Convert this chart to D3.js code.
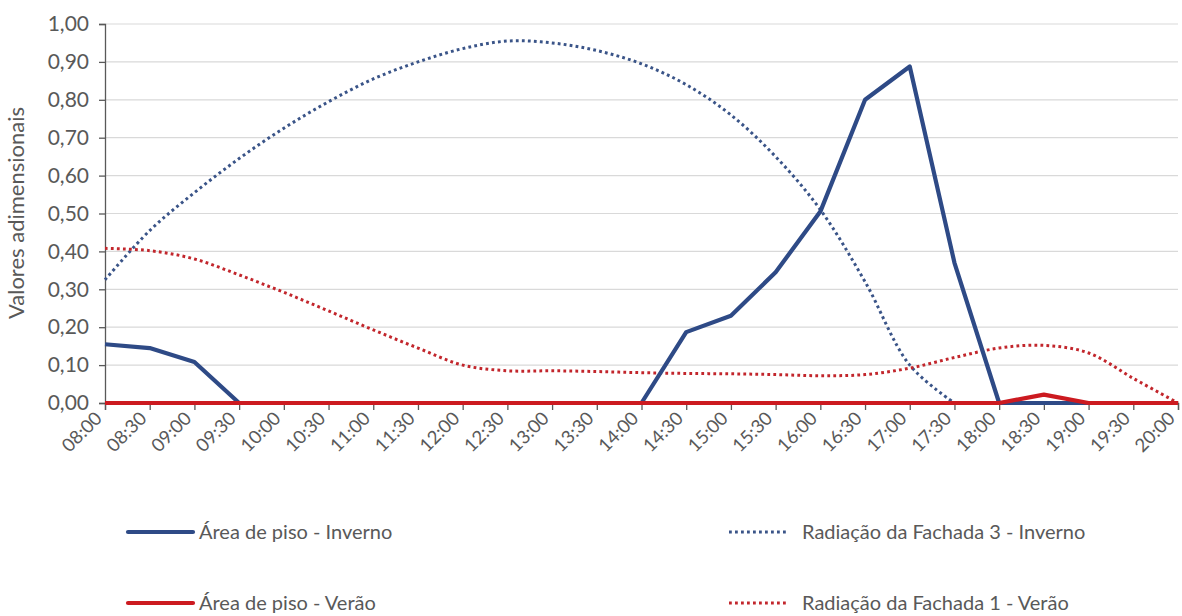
<!DOCTYPE html>
<html><head><meta charset="utf-8">
<script src="https://cdn.jsdelivr.net/npm/d3@7/dist/d3.min.js"></script>
<style>body{margin:0;background:#fff}svg{display:block}text{font-family:Lato,"Open Sans",sans-serif;fill:#595959}</style>
</head><body><svg id="c" width="1182" height="616"></svg>
<script>
const times = ["08:00","08:30","09:00","09:30","10:00","10:30","11:00","11:30","12:00","12:30","13:00","13:30","14:00","14:30","15:00","15:30","16:00","16:30","17:00","17:30","18:00","18:30","19:00","19:30","20:00"];
const areaInverno = [0.155,0.145,0.108,0,0,0,0,0,0,0,0,0,0,0.187,0.23,0.345,0.505,0.80,0.888,0.37,0,0,0,0,0];
const areaVerao   = [0,0,0,0,0,0,0,0,0,0,0,0,0,0,0,0,0,0,0,0,0,0.022,0,0,0];
const radF3Inverno = [0.325,0.455,0.555,0.645,0.725,0.795,0.855,0.90,0.935,0.955,0.95,0.93,0.895,0.84,0.76,0.65,0.51,0.32,0.10,0.0];
const radF1Verao  = [0.408,0.402,0.38,0.338,0.292,0.243,0.193,0.145,0.10,0.085,0.085,0.083,0.08,0.078,0.077,0.075,0.072,0.075,0.092,0.12,0.145,0.152,0.132,0.065,0.0];
const yTicks = [0,0.1,0.2,0.3,0.4,0.5,0.6,0.7,0.8,0.9,1.0];
const seriesNames = ["Área de piso - Inverno","Radiação da Fachada 3 - Inverno","Área de piso - Verão","Radiação da Fachada 1 - Verão"];

const svg = d3.select("#c");
const blue = "#2E4A86", red = "#CC1A20", blueDot = "#3A5488", redDot = "#C2262C";
const x = d3.scalePoint().domain(times).range([105, 1178]);
const y = d3.scaleLinear().domain([0, 1]).range([403, 24]);

svg.append("g").selectAll("line").data(yTicks.slice(1)).join("line")
  .attr("x1", 105).attr("x2", 1178).attr("y1", d => y(d)).attr("y2", d => y(d))
  .attr("stroke", "#D9D9D9").attr("stroke-width", 1.2);

const ya = svg.append("g").attr("transform", "translate(105,0)")
  .call(d3.axisLeft(y).tickValues(yTicks).tickSize(6).tickPadding(10)
    .tickFormat(d => d3.format(".2f")(d).replace(".", ",")));
ya.select(".domain").attr("stroke", "#595959").attr("stroke-width", 1.3);
ya.selectAll(".tick line").attr("stroke", "#595959").attr("stroke-width", 1.3);
ya.selectAll("text").attr("font-size", 21).attr("fill", "#606060").style("font-family", "Lato");

const xa = svg.append("g").attr("transform", "translate(0,403)")
  .call(d3.axisBottom(x).tickSize(7).tickPadding(8));
xa.select(".domain").attr("stroke", "#595959").attr("stroke-width", 1.3);
xa.selectAll(".tick line").attr("stroke", "#595959").attr("stroke-width", 1.3);
xa.selectAll("text").attr("font-size", 18.5).attr("fill", "#606060").style("font-family", "Lato")
  .attr("text-anchor", "end").attr("dy", "0.35em")
  .attr("transform", "translate(-7,12) rotate(-45)").attr("y", 0).attr("x", 0);

svg.append("text").attr("transform", "translate(24,213) rotate(-90)")
  .attr("text-anchor", "middle").attr("font-size", 22).attr("fill", "#606060").text("Valores adimensionais");

const lin = d3.line().x((d, i) => x(times[i])).y(d => y(d));
const smooth = d3.line().x((d, i) => x(times[i])).y(d => y(d)).curve(d3.curveCatmullRom.alpha(0.5));

svg.append("path").datum(radF3Inverno).attr("d", smooth).attr("fill", "none")
  .attr("stroke", blueDot).attr("stroke-width", 3).attr("stroke-dasharray", "2.8,3.2");
svg.append("path").datum(radF1Verao).attr("d", smooth).attr("fill", "none")
  .attr("stroke", redDot).attr("stroke-width", 3).attr("stroke-dasharray", "2.8,3.2");
svg.append("path").datum(areaInverno).attr("d", lin).attr("fill", "none")
  .attr("stroke", blue).attr("stroke-width", 4.2).attr("stroke-linejoin", "round");
svg.append("path").datum(areaVerao).attr("d", lin).attr("fill", "none")
  .attr("stroke", red).attr("stroke-width", 4.2).attr("stroke-linejoin", "round");

const leg = [
  {name: seriesNames[0], x1: 128, x2: 193, tx: 199, y: 532, c: blue, dash: null, w: 4.2},
  {name: seriesNames[1], x1: 729, x2: 789, tx: 802, y: 532, c: blueDot, dash: "2.8,3.2", w: 3},
  {name: seriesNames[2], x1: 128, x2: 193, tx: 199, y: 603, c: red, dash: null, w: 4.2},
  {name: seriesNames[3], x1: 729, x2: 789, tx: 802, y: 603, c: redDot, dash: "2.8,3.2", w: 3}
];
const lg = svg.append("g").selectAll("g").data(leg).join("g");
lg.append("line").attr("x1", d => d.x1).attr("x2", d => d.x2).attr("y1", d => d.y).attr("y2", d => d.y)
  .attr("stroke", d => d.c).attr("stroke-width", d => d.w).attr("stroke-dasharray", d => d.dash)
  .attr("stroke-linecap", d => d.dash ? "butt" : "round");
lg.append("text").attr("x", d => d.tx).attr("y", d => d.y).attr("dy", "0.35em")
  .attr("font-size", 20).attr("fill", "#606060").text(d => d.name);
</script></body></html>
